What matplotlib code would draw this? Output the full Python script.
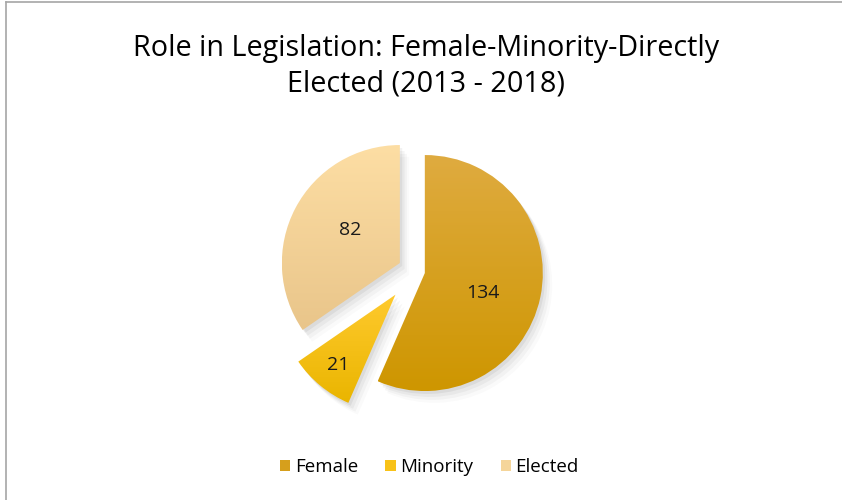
import matplotlib.pyplot as plt
import numpy as np
from matplotlib.colors import LinearSegmentedColormap
from matplotlib.lines import Line2D
from matplotlib.patches import Patch, Wedge

categorias = ["Female", "Minority", "Elected"]
valores = [134, 21, 82]
cores_topo = ["#DFAB40", "#FFCA2E", "#FDDEA4"]
cores_base = ["#CE9600", "#EAB500", "#E9C58A"]
cores_legenda = ["#D69F1C", "#F8C218", "#F5D59A"]
explodir = [0.085, 0.26, 0.145]
dist_rotulo = [0.52, 0.77, 0.51]
giro_rotulo = [-7, 0, -6]  # graus

plt.rcParams["font.family"] = ["Open Sans", "DejaVu Sans"]

fig = plt.figure(figsize=(8.42, 5.0), dpi=100)

# moldura cinza (esquerda e topo)
fig.add_artist(Line2D([6 / 842, 6 / 842], [0, 1 - 1.5 / 500], transform=fig.transFigure, color="#A6A6A6", lw=1.2))
fig.add_artist(Line2D([6 / 842, 1], [1 - 1.5 / 500, 1 - 1.5 / 500], transform=fig.transFigure, color="#A6A6A6", lw=1.2))

fig.text(0.506, 0.903, "Role in Legislation: Female-Minority-Directly", ha="center", va="center", fontsize=20.7, color="#000000")
fig.text(0.506, 0.833, "Elected (2013 - 2018)", ha="center", va="center", fontsize=20.7, color="#000000")

# eixo quadrado centrado no centro da pizza
meio = 150
cx, cy = 415, 271
ax = fig.add_axes([(cx - meio) / 842, (500 - cy - meio) / 500, 2 * meio / 842, 2 * meio / 500])
lim = meio / 118
ax.set_aspect("equal")
ax.axis("off")

fatias, textos = ax.pie(valores, startangle=90, counterclock=False, explode=explodir,
                        radius=1, colors=cores_base, wedgeprops=dict(linewidth=0))

# sombra suave e preenchimento em degrade
grad = np.linspace(0, 1, 256).reshape(-1, 1)
for i, w in enumerate(fatias):
    w.set_visible(False)
    for k, a in enumerate([0.05, 0.04, 0.03, 0.02]):
        sombra = Wedge((w.center[0] + 0.02 * (k + 1), w.center[1] - 0.025 * (k + 1)), w.r,
                       w.theta1, w.theta2, color="black", alpha=a, lw=0, zorder=1)
        ax.add_patch(sombra)
    caixa = w.get_path().get_extents(w.get_patch_transform())
    cmap = LinearSegmentedColormap.from_list("g%d" % i, [cores_base[i], cores_topo[i]])
    im = ax.imshow(grad, cmap=cmap, origin="lower", aspect="auto",
                   extent=[caixa.x0, caixa.x1, caixa.y0, caixa.y1], zorder=2)
    clip = Wedge(w.center, w.r, w.theta1, w.theta2, transform=ax.transData)
    im.set_clip_path(clip)

ax.set_xlim(-lim, lim)
ax.set_ylim(-lim, lim)

# rotulos de valor
for i, w in enumerate(fatias):
    ang = np.deg2rad((w.theta1 + w.theta2) / 2 + giro_rotulo[i])
    x = w.center[0] + dist_rotulo[i] * np.cos(ang)
    y = w.center[1] + dist_rotulo[i] * np.sin(ang)
    ax.text(x, y, str(valores[i]), ha="center", va="center", fontsize=14, color="#1a1a1a", zorder=5)

alcas = [Patch(facecolor=cores_legenda[i], edgecolor="none") for i in range(3)]
fig.legend(alcas, categorias, loc="center", bbox_to_anchor=(0.51, 0.066), ncol=3, frameon=False,
           fontsize=13.5, handlelength=0.55, handleheight=0.55, handletextpad=0.25, columnspacing=1.45)

fig.savefig("out.png", dpi=100)
